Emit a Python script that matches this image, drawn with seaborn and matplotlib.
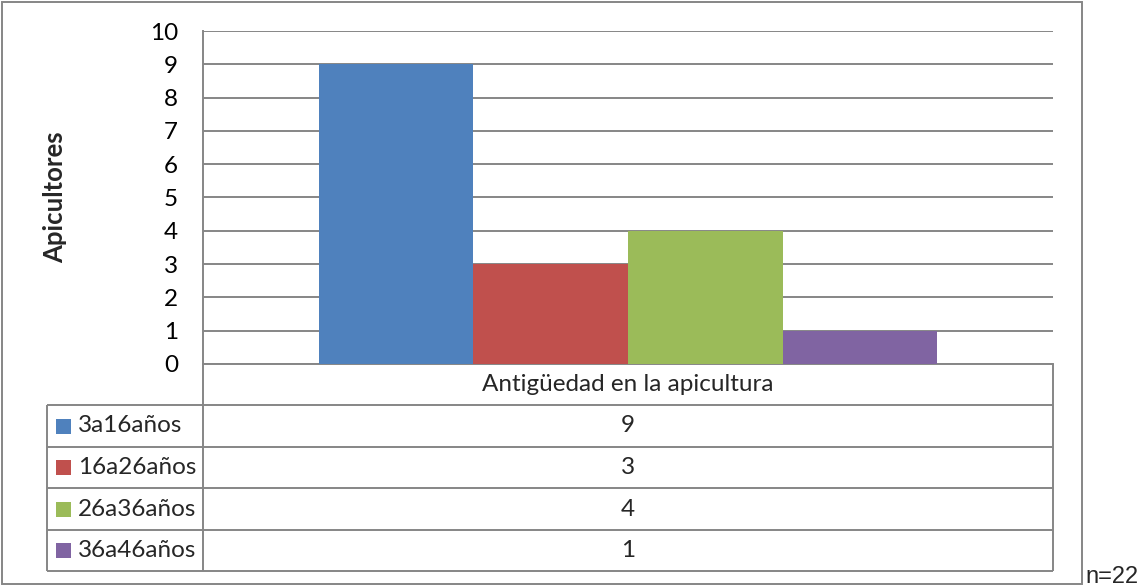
import matplotlib
matplotlib.use("Agg")
import matplotlib.pyplot as plt
import pandas as pd
import seaborn as sns
from matplotlib.lines import Line2D
from matplotlib.patches import Rectangle

CATEGORY = "Antigüedad en la apicultura"
SERIES = ["3a16años", "16a26años", "26a36años", "36a46años"]
VALUES = [9, 3, 4, 1]
COLORS = ["#4F81BD", "#C0504D", "#9BBB59", "#8064A2"]
Y_TICKS = list(range(0, 11))
Y_LABEL = "Apicultores"
NOTE = "n=22"

W, H = 1143, 586
GRID = "#868686"
FONT = ["Lato", "DejaVu Sans"]
FS = 17.5


def fx(x):
    return x / W


def fy(y):
    return 1 - y / H


def hline(fig, y, x0, x1):
    fig.add_artist(Line2D([fx(x0), fx(x1)], [fy(y), fy(y)], color=GRID, lw=1.4,
                          transform=fig.transFigure, solid_capstyle="butt"))


def vline(fig, x, y0, y1):
    fig.add_artist(Line2D([fx(x), fx(x)], [fy(y0), fy(y1)], color=GRID, lw=1.4,
                          transform=fig.transFigure, solid_capstyle="butt"))


def main():
    sns.set_theme(style="white")
    plt.rcParams["font.family"] = FONT

    df = pd.DataFrame({"grupo": [CATEGORY] * len(SERIES), "serie": SERIES, "valor": VALUES})

    fig = plt.figure(figsize=(W / 100, H / 100), dpi=100)
    fig.patch.set_facecolor("white")
    ax = fig.add_axes([fx(203), fy(364), fx(1053) - fx(203), fy(31) - fy(364)])

    sns.barplot(data=df, x="grupo", y="valor", hue="serie", hue_order=SERIES,
                palette=COLORS, saturation=1, width=0.728, gap=0,
                legend=False, ax=ax, zorder=3, linewidth=0, edgecolor="none")

    ax.set_xlim(-0.5, 0.5)
    ax.set_ylim(0, 10)
    ax.set_yticks(Y_TICKS)
    ax.yaxis.grid(True, color=GRID, lw=1.4, zorder=0)
    ax.set_axisbelow(True)
    ax.set_xticks([])
    ax.set_xlabel("")
    ax.set_ylabel("")
    ax.tick_params(axis="y", length=0, pad=18, labelsize=FS, labelcolor="black")
    for side in ["top", "right"]:
        ax.spines[side].set_visible(False)
    for side in ["left", "bottom"]:
        ax.spines[side].set_color(GRID)
        ax.spines[side].set_linewidth(1.4)

    fig.text(fx(55), fy(197), Y_LABEL, rotation=90, ha="center", va="center",
             fontsize=18.5, fontweight="bold")

    # data table under the chart
    rows = [364, 405, 447, 488, 530, 571]
    for y in rows[1:]:
        hline(fig, y, 47, 1053)
    vline(fig, 47, rows[1], rows[-1])
    vline(fig, 203, 364, rows[-1])
    vline(fig, 1053, 364, rows[-1])

    mid = (203 + 1053) / 2
    fig.text(fx(mid), fy((rows[0] + rows[1]) / 2), CATEGORY, ha="center", va="center", fontsize=FS)
    for i, (name, val, col) in enumerate(zip(SERIES, VALUES, COLORS)):
        yc = (rows[i + 1] + rows[i + 2]) / 2
        fig.add_artist(Rectangle((fx(56), fy(yc + 7.5)), fx(15), fy(0) - fy(15),
                                 transform=fig.transFigure, color=col, lw=0))
        fig.text(fx(78), fy(yc), name, ha="left", va="center", fontsize=FS)
        fig.text(fx(mid), fy(yc), str(val), ha="center", va="center", fontsize=FS)

    # outer chart border
    fig.add_artist(Rectangle((fx(2), fy(584)), fx(1082) - fx(2), fy(2) - fy(584),
                             transform=fig.transFigure, fill=False, ec=GRID, lw=1.4))
    fig.text(fx(1085), fy(583), NOTE, ha="left", va="baseline", fontsize=17,
             family=["Liberation Sans", "DejaVu Sans"])

    fig.savefig("out.png", dpi=100)
    plt.close(fig)


if __name__ == "__main__":
    main()
